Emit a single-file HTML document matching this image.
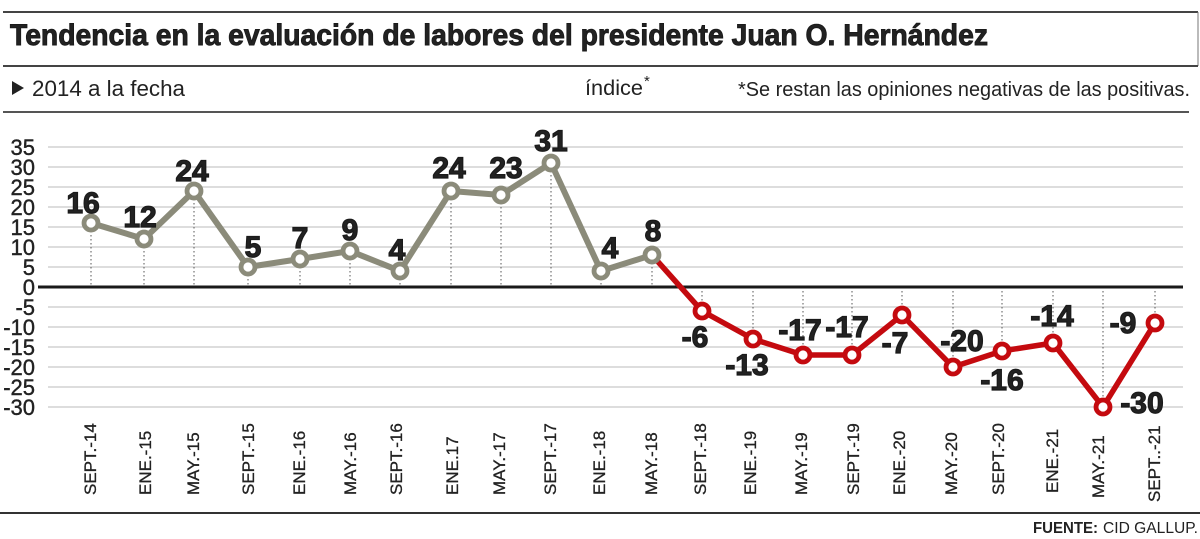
<!DOCTYPE html>
<html>
<head>
<meta charset="utf-8">
<style>
html,body{margin:0;padding:0;background:#fff;}
svg{display:block;}
text{font-family:"Liberation Sans",sans-serif;fill:#222;}
</style>
</head>
<body>
<svg width="1200" height="539" viewBox="0 0 1200 539" xmlns="http://www.w3.org/2000/svg">
<!-- header rules -->
<line x1="3" y1="12" x2="1198" y2="12" stroke="#444" stroke-width="2"/>
<line x1="1198" y1="12" x2="1198" y2="66" stroke="#777" stroke-width="1"/>
<line x1="3" y1="66" x2="1198" y2="66" stroke="#444" stroke-width="2"/>
<line x1="3" y1="112" x2="1189" y2="112" stroke="#555" stroke-width="2"/>
<line x1="0" y1="513" x2="1200" y2="513" stroke="#333" stroke-width="2"/>

<text x="10" y="45" font-size="30" font-weight="bold" textLength="978" lengthAdjust="spacingAndGlyphs" fill="#1a1a1a" stroke="#1a1a1a" stroke-width="0.9">Tendencia en la evaluación de labores del presidente Juan O. Hernández</text>

<polygon points="12,81 12,95 24,88" fill="#222"/>
<text x="32" y="96" font-size="22" textLength="153" lengthAdjust="spacingAndGlyphs">2014 a la fecha</text>
<text x="585" y="95" font-size="21" textLength="58" lengthAdjust="spacingAndGlyphs">índice</text>
<text x="644" y="86" font-size="15">*</text>
<text x="738" y="96" font-size="20" textLength="452" lengthAdjust="spacingAndGlyphs">*Se restan las opiniones negativas de las positivas.</text>

<!-- grid -->
<g stroke="#d2d2d2" stroke-width="1.5">
<line x1="48" y1="147" x2="1183" y2="147"/>
<line x1="48" y1="167" x2="1183" y2="167"/>
<line x1="48" y1="187" x2="1183" y2="187"/>
<line x1="48" y1="207" x2="1183" y2="207"/>
<line x1="48" y1="227" x2="1183" y2="227"/>
<line x1="48" y1="247" x2="1183" y2="247"/>
<line x1="48" y1="267" x2="1183" y2="267"/>
<line x1="48" y1="307" x2="1183" y2="307"/>
<line x1="48" y1="327" x2="1183" y2="327"/>
<line x1="48" y1="347" x2="1183" y2="347"/>
<line x1="48" y1="367" x2="1183" y2="367"/>
<line x1="48" y1="387" x2="1183" y2="387"/>
<line x1="48" y1="407" x2="1183" y2="407"/>
</g>

<!-- y labels -->
<g font-size="22" text-anchor="end" fill="#222" stroke="#222" stroke-width="0.4">
<text x="35" y="155">35</text>
<text x="35" y="175">30</text>
<text x="35" y="195">25</text>
<text x="35" y="215">20</text>
<text x="35" y="235">15</text>
<text x="35" y="255">10</text>
<text x="35" y="275">5</text>
<text x="35" y="295">0</text>
<text x="35" y="315">-5</text>
<text x="35" y="335">-10</text>
<text x="35" y="355">-15</text>
<text x="35" y="375">-20</text>
<text x="35" y="395">-25</text>
<text x="35" y="415">-30</text>
</g>

<!-- dotted drop lines -->
<g stroke="#555" stroke-width="1" stroke-dasharray="1.5,2.5">
<line x1="91" y1="223" x2="91" y2="287"/>
<line x1="144" y1="239" x2="144" y2="287"/>
<line x1="194" y1="191" x2="194" y2="287"/>
<line x1="248" y1="267" x2="248" y2="287"/>
<line x1="300" y1="259" x2="300" y2="287"/>
<line x1="350" y1="251" x2="350" y2="287"/>
<line x1="400" y1="271" x2="400" y2="287"/>
<line x1="451" y1="191" x2="451" y2="287"/>
<line x1="501" y1="195" x2="501" y2="287"/>
<line x1="551" y1="163" x2="551" y2="287"/>
<line x1="601" y1="271" x2="601" y2="287"/>
<line x1="652" y1="255" x2="652" y2="287"/>
<line x1="702" y1="287" x2="702" y2="311"/>
<line x1="753" y1="287" x2="753" y2="339"/>
<line x1="803" y1="287" x2="803" y2="355"/>
<line x1="852" y1="287" x2="852" y2="355"/>
<line x1="902" y1="287" x2="902" y2="315"/>
<line x1="953" y1="287" x2="953" y2="367"/>
<line x1="1002" y1="287" x2="1002" y2="351"/>
<line x1="1053" y1="287" x2="1053" y2="343"/>
<line x1="1103" y1="287" x2="1103" y2="407"/>
<line x1="1155" y1="287" x2="1155" y2="323"/>
</g>

<!-- zero line -->
<line x1="38" y1="287" x2="1183" y2="287" stroke="#1a1a1a" stroke-width="3"/>

<!-- series -->
<polyline fill="none" stroke="#c40a0f" stroke-width="5.5" stroke-linejoin="round"
 points="652,255 702,311 753,339 803,355 852,355 902,315 953,367 1002,351 1053,343 1103,407 1155,323"/>
<polyline fill="none" stroke="#8b8b7a" stroke-width="6" stroke-linejoin="round"
 points="91,223 144,239 194,191 248,267 300,259 350,251 400,271 451,191 501,195 551,163 601,271 652,255"/>

<g fill="#fff" stroke="#8b8b7a" stroke-width="4.8">
<circle cx="91" cy="223" r="7"/>
<circle cx="144" cy="239" r="7"/>
<circle cx="194" cy="191" r="7"/>
<circle cx="248" cy="267" r="7"/>
<circle cx="300" cy="259" r="7"/>
<circle cx="350" cy="251" r="7"/>
<circle cx="400" cy="271" r="7"/>
<circle cx="451" cy="191" r="7"/>
<circle cx="501" cy="195" r="7"/>
<circle cx="551" cy="163" r="7"/>
<circle cx="601" cy="271" r="7"/>
<circle cx="652" cy="255" r="7"/>
</g>
<g fill="#fff" stroke="#c40a0f" stroke-width="4.8">
<circle cx="702" cy="311" r="7"/>
<circle cx="753" cy="339" r="7"/>
<circle cx="803" cy="355" r="7"/>
<circle cx="852" cy="355" r="7"/>
<circle cx="902" cy="315" r="7"/>
<circle cx="953" cy="367" r="7"/>
<circle cx="1002" cy="351" r="7"/>
<circle cx="1053" cy="343" r="7"/>
<circle cx="1103" cy="407" r="7"/>
<circle cx="1155" cy="323" r="7"/>
</g>

<!-- data labels -->
<g font-size="30" font-weight="bold" text-anchor="middle" fill="#1a1a1a" stroke="#1a1a1a" stroke-width="1.2">
<text x="83" y="213">16</text>
<text x="140" y="227">12</text>
<text x="192" y="181">24</text>
<text x="253" y="257">5</text>
<text x="300" y="248">7</text>
<text x="350" y="240">9</text>
<text x="397" y="260">4</text>
<text x="449" y="178">24</text>
<text x="506" y="178">23</text>
<text x="551" y="151">31</text>
<text x="610" y="258">4</text>
<text x="653" y="241">8</text>
<text x="695" y="347">-6</text>
<text x="747" y="375">-13</text>
<text x="800" y="340">-17</text>
<text x="847" y="337">-17</text>
<text x="895" y="353">-7</text>
<text x="962" y="351">-20</text>
<text x="1002" y="390">-16</text>
<text x="1052" y="326">-14</text>
<text x="1142" y="413">-30</text>
<text x="1123" y="333">-9</text>
</g>

<!-- x labels -->
<g font-size="17" fill="#222" stroke="#222" stroke-width="0.3">
<text transform="translate(96,495) rotate(-90)">SEPT.-14</text>
<text transform="translate(151,495) rotate(-90)">ENE.-15</text>
<text transform="translate(199,495) rotate(-90)">MAY.-15</text>
<text transform="translate(254,495) rotate(-90)">SEPT.-15</text>
<text transform="translate(305,495) rotate(-90)">ENE.-16</text>
<text transform="translate(356,495) rotate(-90)">MAY.-16</text>
<text transform="translate(402,495) rotate(-90)">SEPT.-16</text>
<text transform="translate(458,495) rotate(-90)">ENE.17</text>
<text transform="translate(505,495) rotate(-90)">MAY.-17</text>
<text transform="translate(556,495) rotate(-90)">SEPT.-17</text>
<text transform="translate(605,495) rotate(-90)">ENE.-18</text>
<text transform="translate(657,495) rotate(-90)">MAY.-18</text>
<text transform="translate(706,495) rotate(-90)">SEPT.-18</text>
<text transform="translate(756,495) rotate(-90)">ENE.-19</text>
<text transform="translate(807,495) rotate(-90)">MAY.-19</text>
<text transform="translate(859,495) rotate(-90)">SEPT.-19</text>
<text transform="translate(905,495) rotate(-90)">ENE.-20</text>
<text transform="translate(957,495) rotate(-90)">MAY.-20</text>
<text transform="translate(1004,495) rotate(-90)">SEPT.-20</text>
<text transform="translate(1058,493) rotate(-90)">ENE.-21</text>
<text transform="translate(1104,498) rotate(-90)">MAY.-21</text>
<text transform="translate(1160,502) rotate(-90)">SEPT..-21</text>
</g>

<!-- source -->
<text x="1033" y="533" font-size="16" font-weight="bold" textLength="65" lengthAdjust="spacingAndGlyphs" fill="#222">FUENTE:</text>
<text x="1103" y="533" font-size="16" textLength="95" lengthAdjust="spacingAndGlyphs" fill="#333">CID GALLUP.</text>
</svg>
</body>
</html>
